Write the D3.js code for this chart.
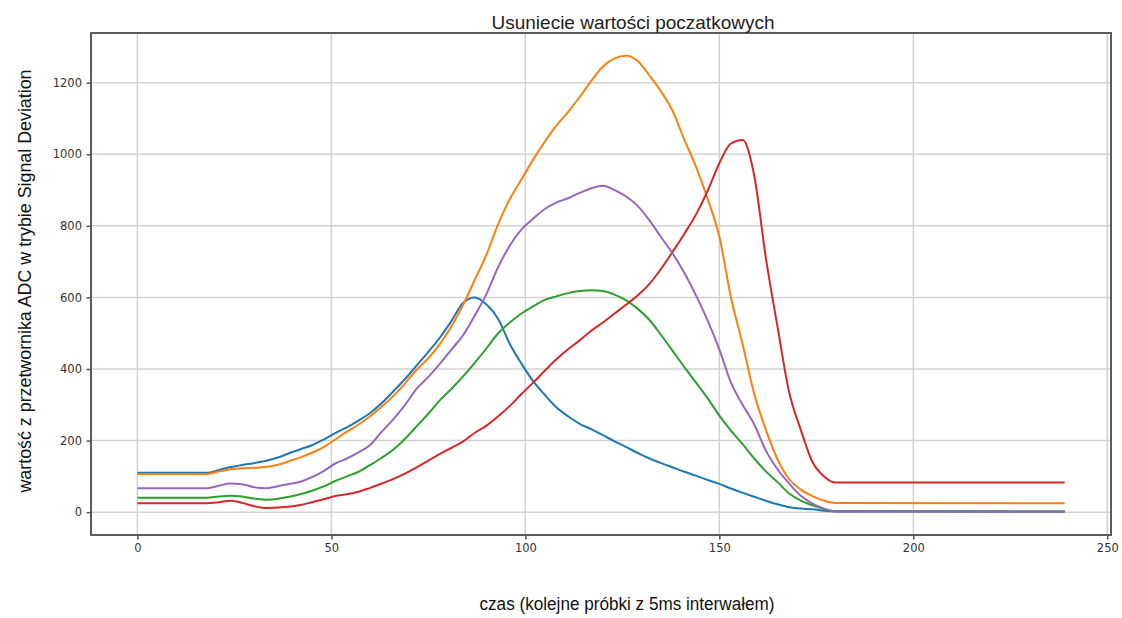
<!DOCTYPE html>
<html>
<head>
<meta charset="utf-8">
<script src="https://cdn.jsdelivr.net/npm/d3@7"></script>
<style>
  body { margin: 0; background: #fff; }
  .tick text { font-family: "DejaVu Sans", sans-serif; font-size: 11.5px; fill: #333; }
</style>
</head>
<body>
<div class="chart"></div>
<script>
// sample index (every 3rd sample, then end of run)
var czas = [0,3,6,9,12,15,18,21,24,27,30,33,36,39,42,45,48,51,54,57,60,63,66,69,72,75,78,81,84,87,
  90,93,96,99,102,105,108,111,114,117,120,123,126,129,132,135,138,141,144,147,150,153,156,159,162,165,
  168,171,174,177,180,239];

// values, one list per sensor
var seria1 = [110,110,110,110,110,110,110,118,126,132,137,143,152,164,176,187,203,221,237,256,277,305,338,372,410,448,488,535,585,600,
  580,540,470,415,366,328,293,268,247,232,215,198,182,165,150,137,125,113,102,90,79,66,54,43,32,22,
  14,10,8,4,2,2];
var seria2 = [107,107,107,107,107,107,107,114,120,123,124,126,132,142,153,166,182,203,225,245,268,295,325,360,398,430,470,520,580,650,
  720,805,875,930,985,1035,1080,1118,1160,1205,1245,1268,1275,1260,1220,1175,1120,1040,965,875,770,600,470,330,230,148,
  92,63,45,32,26,25];
var seria3 = [40,40,40,40,40,40,40,44,46,44,38,35,37,43,50,60,72,87,100,113,132,152,175,205,240,275,313,345,380,418,
  458,500,530,555,575,593,603,612,618,620,618,608,592,568,537,495,450,405,362,318,270,228,190,150,114,84,
  52,32,19,9,3,2];
var seria4 = [25,25,25,25,25,25,25,28,32,26,17,12,13,15,20,28,36,45,50,57,68,80,93,108,125,144,163,180,198,222,
  242,268,297,330,362,395,427,455,480,507,530,555,580,606,638,680,728,778,832,898,975,1030,1040,940,710,518,
  335,230,140,100,83,83];
var seria5 = [67,67,67,67,67,67,67,74,80,78,70,67,72,79,85,98,115,136,150,167,188,225,260,300,345,378,415,455,495,550,
  610,685,745,790,820,847,865,877,892,905,912,900,882,855,815,768,722,668,605,535,455,362,300,245,172,120,
  80,46,24,10,2,1];

var series = [seria1, seria2, seria3, seria4, seria5];
var colors = ["#1f77b4", "#ff7f0e", "#2ca02c", "#d62728", "#9467bd"];

var xTicks = [0, 50, 100, 150, 200, 250];
var yTicks = [0, 200, 400, 600, 800, 1000, 1200];

var width = 1122;
var height = 618;
var plot = {left: 91, right: 1111, top: 33, bottom: 535};

var svg = d3.select(".chart")
  .append("svg")
    .attr("width", width)
    .attr("height", height);

// matplotlib-like 5% padding around the data
var x = d3.scaleLinear()
  .domain([-11.95, 250.95])
  .range([plot.left, plot.right]);

var y = d3.scaleLinear()
  .domain([-63.75, 1338.75])
  .range([plot.bottom, plot.top]);

// grid
svg.append("g")
  .selectAll("line")
  .data(xTicks)
  .enter()
  .append("line")
    .attr("x1", d => x(d)).attr("x2", d => x(d))
    .attr("y1", plot.top).attr("y2", plot.bottom)
    .attr("stroke", "#d2d2d2")
    .attr("stroke-width", 1.5);

svg.append("g")
  .selectAll("line")
  .data(yTicks)
  .enter()
  .append("line")
    .attr("x1", plot.left).attr("x2", plot.right)
    .attr("y1", d => y(d)).attr("y2", d => y(d))
    .attr("stroke", "#d2d2d2")
    .attr("stroke-width", 1.5);

// lines
var line = d3.line()
  .x((d, i) => x(czas[i]))
  .y(d => y(d))
  .curve(d3.curveMonotoneX);

svg.append("g")
  .selectAll("path")
  .data(series)
  .enter()
  .append("path")
    .attr("d", line)
    .attr("fill", "none")
    .attr("stroke", (d, i) => colors[i])
    .attr("stroke-width", 2)
    .attr("stroke-linejoin", "round");

// axes
var xAxis = svg.append("g")
  .attr("transform", "translate(0," + plot.bottom + ")")
  .call(d3.axisBottom(x).tickValues(xTicks).tickFormat(d3.format("d")).tickSize(4.5).tickPadding(4.5));

var yAxis = svg.append("g")
  .attr("transform", "translate(" + plot.left + ",0)")
  .call(d3.axisLeft(y).tickValues(yTicks).tickFormat(d3.format("d")).tickSize(4.5).tickPadding(4.5));

[xAxis, yAxis].forEach(function(a) {
  a.select(".domain").remove();
  a.selectAll(".tick line").attr("stroke", "#555").attr("stroke-width", 1.5);
});

// frame
svg.append("rect")
  .attr("x", plot.left)
  .attr("y", plot.top)
  .attr("width", plot.right - plot.left)
  .attr("height", plot.bottom - plot.top)
  .attr("fill", "none")
  .attr("stroke", "#5a5a5a")
  .attr("stroke-width", 2);

// titles
svg.append("text")
  .attr("x", 633)
  .attr("y", 28.5)
  .attr("text-anchor", "middle")
  .style("font-family", "'Liberation Sans', Arial, sans-serif")
  .style("font-size", "19px")
  .style("fill", "#222")
  .text("Usuniecie wartości poczatkowych");

svg.append("text")
  .attr("x", 627)
  .attr("y", 610)
  .attr("text-anchor", "middle")
  .attr("textLength", 295)
  .attr("lengthAdjust", "spacingAndGlyphs")
  .style("font-family", "'Liberation Sans', Arial, sans-serif")
  .style("font-size", "17.5px")
  .style("fill", "#111")
  .text("czas (kolejne próbki z 5ms interwałem)");

svg.append("text")
  .attr("transform", "translate(31,281) rotate(-90)")
  .attr("text-anchor", "middle")
  .attr("textLength", 423)
  .attr("lengthAdjust", "spacingAndGlyphs")
  .style("font-family", "'Liberation Sans', Arial, sans-serif")
  .style("font-size", "18.5px")
  .style("fill", "#111")
  .text("wartość z przetwornika ADC w trybie Signal Deviation");
</script>
</body>
</html>
